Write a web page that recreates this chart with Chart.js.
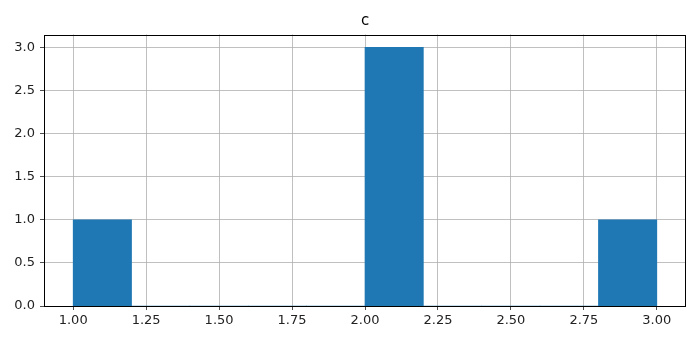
<!DOCTYPE html>
<html>
<head>
<meta charset="utf-8">
<script src="https://cdn.jsdelivr.net/npm/chart.js@4/dist/chart.umd.min.js"></script>
<style>
  html, body { margin: 0; padding: 0; background: #fff; }
  #chart { display: block; }
</style>
</head>
<body>
<canvas id="chart" width="700" height="342"></canvas>
<script>
// histogram of column "c": 10 bins between 1 and 3
const binCenters = [1.1, 1.3, 1.5, 1.7, 1.9, 2.1, 2.3, 2.5, 2.7, 2.9];
const binCounts = [1, 0, 0, 0, 0, 3, 0, 0, 0, 1];
const xTicks = [1.0, 1.25, 1.5, 1.75, 2.0, 2.25, 2.5, 2.75, 3.0];
const yTicks = [0, 0.5, 1.0, 1.5, 2.0, 2.5, 3.0];
const chartTitle = 'c';

// matplotlib style box around the plot area
const frame = {
    id: 'frame',
    afterDraw(chart) {
        const a = chart.chartArea;
        const ctx = chart.ctx;
        ctx.save();
        ctx.strokeStyle = '#000';
        ctx.lineWidth = 1;
        ctx.strokeRect(Math.round(a.left) + 0.5, Math.round(a.top) + 0.5,
            Math.round(a.right - a.left) - 1, Math.round(a.bottom - a.top) - 1);
        ctx.restore();
    }
};

const family = "'DejaVu Sans', sans-serif";
const font = { family: family, size: 13 };

new Chart(document.getElementById('chart').getContext('2d'), {
    type: 'bar',
    data: {
        datasets: [{
            data: binCenters.map((x, i) => ({ x: x, y: binCounts[i] })),
            backgroundColor: '#1f77b4',
            borderWidth: 0,
            barPercentage: 1,
            categoryPercentage: 1
        }]
    },
    options: {
        responsive: false,
        animation: false,
        layout: { padding: { left: 0, right: 14, top: 0, bottom: 0 } },
        plugins: {
            legend: { display: false },
            tooltip: { enabled: false },
            title: {
                display: true,
                text: chartTitle,
                fullSize: false,
                color: '#000',
                font: { family: family, size: 15, weight: 'normal' },
                padding: { top: 12, bottom: 4.5 }
            }
        },
        scales: {
            x: {
                type: 'linear',
                min: 0.9,
                max: 3.1,
                offset: false,
                z: 1,
                afterBuildTicks: s => { s.ticks = xTicks.map(v => ({ value: v })); },
                afterFit: s => { s.height = 36; },
                ticks: {
                    color: '#222',
                    font: font,
                    padding: 3,
                    maxRotation: 0,
                    autoSkip: false,
                    callback: v => Number(v).toFixed(2)
                },
                grid: {
                    offset: false,
                    color: '#b0b0b0',
                    lineWidth: 0.8,
                    tickColor: '#222',
                    tickLength: 4
                },
                border: { display: false }
            },
            y: {
                min: 0,
                max: 3.15,
                z: 1,
                afterBuildTicks: s => { s.ticks = yTicks.map(v => ({ value: v })); },
                afterFit: s => { s.width = 44; },
                ticks: {
                    color: '#222',
                    font: font,
                    padding: 5,
                    autoSkip: false,
                    callback: v => Number(v).toFixed(1)
                },
                grid: {
                    color: '#b0b0b0',
                    lineWidth: 0.8,
                    tickColor: '#222',
                    tickLength: 4
                },
                border: { display: false }
            }
        }
    },
    plugins: [frame]
});
</script>
</body>
</html>
